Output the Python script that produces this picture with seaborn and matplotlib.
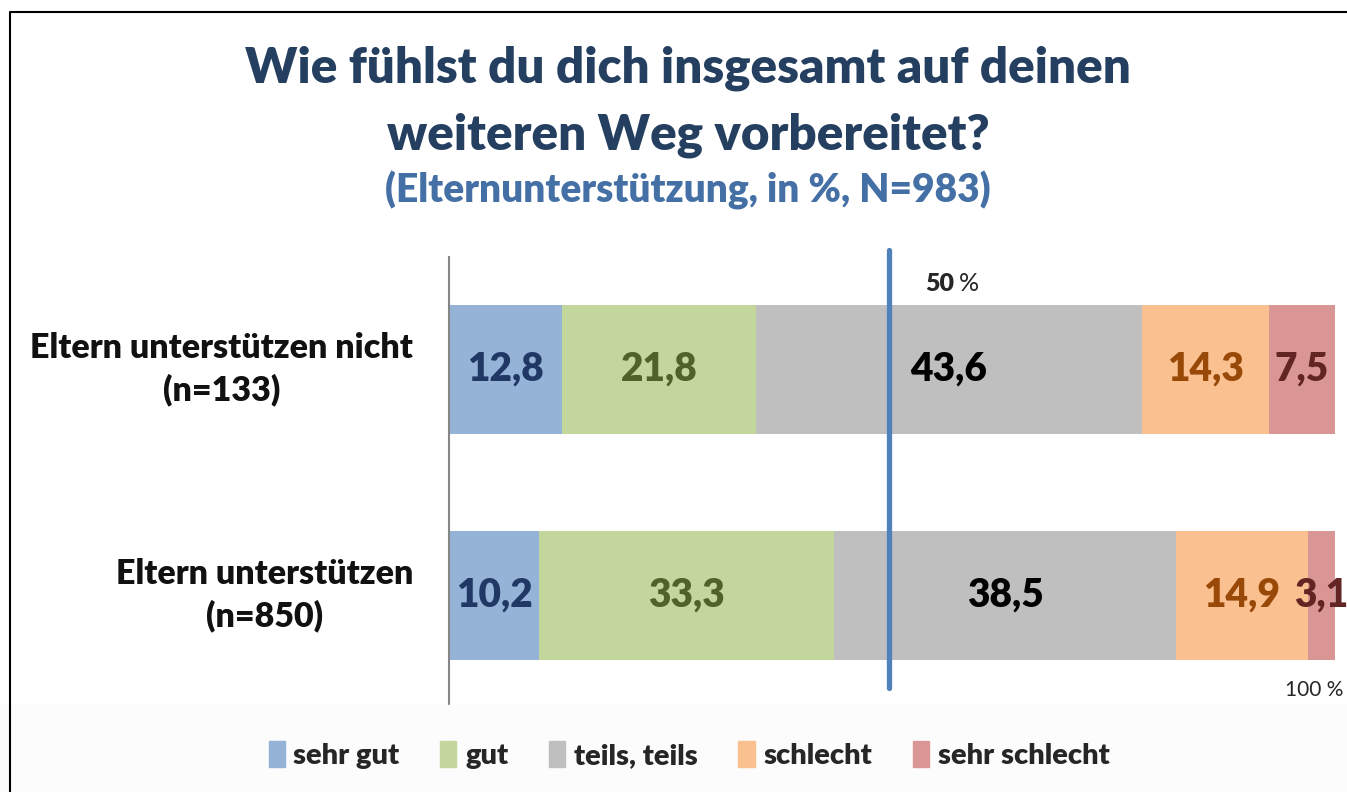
import numpy as np
import pandas as pd
import matplotlib.pyplot as plt
import matplotlib.patches as mpatches
from matplotlib.lines import Line2D
import seaborn as sns

# data (in %)
groups = ['Eltern unterstützen nicht\n(n=133)', 'Eltern unterstützen\n(n=850)']
categories = ['sehr gut', 'gut', 'teils, teils', 'schlecht', 'sehr schlecht']
sehr_gut = [12.8, 10.2]
gut = [21.8, 33.3]
teils = [43.6, 38.5]
schlecht = [14.3, 14.9]
sehr_schlecht = [7.5, 3.1]

bar_colors = ['#95B3D7', '#C3D69B', '#BFBFBF', '#FAC090', '#D99694']
text_colors = ['#1F3864', '#4F6228', '#000000', '#984807', '#632523']

FONT = ['Lato', 'DejaVu Sans']
BOLD = 'heavy'


def build_frame():
    df = pd.DataFrame({'group': groups, 'sehr gut': sehr_gut, 'gut': gut,
                       'teils, teils': teils, 'schlecht': schlecht,
                       'sehr schlecht': sehr_schlecht})
    cum = df[categories].cumsum(axis=1)
    return df, cum


def plot(df, cum):
    sns.set_style('white')
    plt.rcParams['font.family'] = FONT

    fig = plt.figure(figsize=(13.47, 7.92), dpi=100)
    W, H = 1347, 792
    cx = 688 / W  # horizontal centre of the title block

    # light footer band behind the legend
    fig.patches.append(mpatches.Rectangle((0, 0), 1, (H - 705) / H, transform=fig.transFigure,
                                          color='#FCFCFC', zorder=0))
    # frame lines (left and top, rest is cropped)
    fig.lines.append(Line2D([10 / W, 10 / W, 1], [0, 1 - 12 / H, 1 - 12 / H],
                            transform=fig.transFigure, color='black', lw=1.5))

    ax = fig.add_axes([449 / W, (H - 708) / H, (1335 - 449) / W, (708 - 257) / H])
    ax.set_facecolor('none')

    # stacked bars: draw cumulative totals from longest to shortest
    for i in reversed(range(len(categories))):
        plot_df = pd.DataFrame({'group': df['group'], 'val': cum[categories[i]]})
        sns.barplot(data=plot_df, x='val', y='group', orient='h', color=bar_colors[i],
                    saturation=1, width=0.571, linewidth=0, ax=ax)

    for j in range(len(groups)):
        for i, cat in enumerate(categories):
            v = df[cat].iloc[j]
            center = cum[cat].iloc[j] - v / 2
            ax.text(center, j, f'{v:.1f}'.replace('.', ','), ha='center', va='center',
                    fontsize=28, fontweight=BOLD, color=text_colors[i], clip_on=False)

    ax.set_xlim(0, 100)
    ax.set_ylim(1.498, -0.498)
    ax.set_xlabel('')
    ax.set_ylabel('')
    ax.set_xticks([])
    ax.set_yticklabels([])
    ax.tick_params(axis='y', length=0)
    # group labels, right aligned left of the axis
    for j, g in enumerate(groups):
        ax.annotate(g, xy=(0, j), xycoords=('axes fraction', 'data'), xytext=(-36, 0),
                    textcoords='offset pixels', ha='right', va='center', multialignment='center',
                    fontsize=24.5, fontweight=BOLD, linespacing=1.35, color='#111111')
    for s in ['top', 'right', 'bottom']:
        ax.spines[s].set_visible(False)
    ax.spines['left'].set_color('#868686')
    ax.spines['left'].set_linewidth(1.5)

    # 50 % marker line
    ax.plot([49.7, 49.7], [-0.53, 1.41], color='#4F81BD', lw=3.8, clip_on=False, zorder=5)
    ax.text(53.7, -0.38, '50', fontsize=18, fontweight=BOLD, va='center', ha='left')
    ax.text(57.6, -0.38, '%', fontsize=18, va='center', ha='left')
    ax.text(94.4, 1.417, '100 %', fontsize=15, va='center', ha='left', clip_on=False)

    # titles
    fig.text(cx, 1 - 68 / H, 'Wie fühlst du dich insgesamt auf deinen', ha='center', va='center',
             fontsize=35.5, fontweight=BOLD, color='#243F60')
    fig.text(cx, 1 - 135 / H, 'weiteren Weg vorbereitet?', ha='center', va='center',
             fontsize=35.5, fontweight=BOLD, color='#243F60')
    fig.text(cx, 1 - 190 / H, '(Elternunterstützung, in %, N=983)', ha='center', va='center',
             fontsize=28, fontweight=BOLD, color='#4470A6')

    handles = [mpatches.Patch(color=c, label=l) for c, l in zip(bar_colors, categories)]
    fig.legend(handles=handles, loc='center', bbox_to_anchor=(689 / W, (H - 755) / H),
               ncol=5, frameon=False, handlelength=0.55, handleheight=1.0,
               handletextpad=0.3, columnspacing=1.4,
               prop={'family': FONT, 'weight': BOLD, 'size': 21})

    fig.savefig('out.png', dpi=100)


def main():
    df, cum = build_frame()
    plot(df, cum)


if __name__ == '__main__':
    main()
